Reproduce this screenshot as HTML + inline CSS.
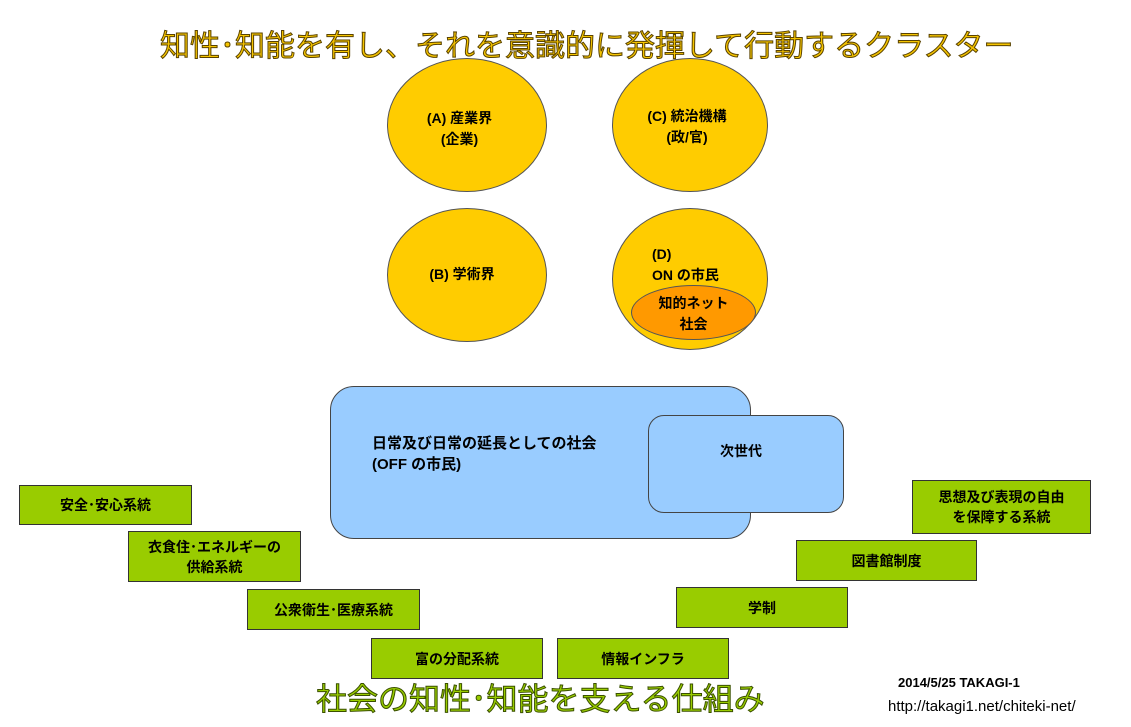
<!DOCTYPE html>
<html><head><meta charset="utf-8"><style>
body{margin:0;width:1131px;height:727px;background:#fff;position:relative;overflow:hidden;font-family:"Liberation Sans","Noto Sans CJK JP",sans-serif;}
.a{position:absolute;box-sizing:border-box;}
.el{border-radius:50%;background:#ffcc00;border:1px solid #555;}
.g{background:#99cc00;border:1px solid #333;display:flex;align-items:center;justify-content:center;text-align:center;font-size:14px;font-weight:bold;line-height:20px;color:#000;}
.t{font-weight:bold;font-size:14px;line-height:21px;text-align:center;}
</style></head><body>
<div class="a el" style="left:387px;top:58px;width:160px;height:134px;"></div>
<div class="a t" style="left:387px;top:108px;width:145px;">(A) 産業界<br>(企業)</div>
<div class="a el" style="left:612px;top:58px;width:156px;height:134px;"></div>
<div class="a t" style="left:612px;top:106px;width:150px;">(C) 統治機構<br>(政/官)</div>
<div class="a el" style="left:387px;top:208px;width:160px;height:134px;"></div>
<div class="a t" style="left:387px;top:264px;width:150px;">(B) 学術界</div>
<div class="a el" style="left:612px;top:208px;width:156px;height:142px;"></div>
<div class="a t" style="left:652px;top:244px;text-align:left;">(D)<br>ON の市民</div>
<div class="a" style="left:631px;top:285px;width:125px;height:55px;border-radius:50%;background:#ff9900;border:1px solid #555;"></div>
<div class="a t" style="left:631px;top:293px;width:125px;">知的ネット<br>社会</div>

<div class="a" style="left:160px;top:21px;font-size:30px;color:#f5c400;font-weight:normal;-webkit-text-stroke:1px #5a4300;white-space:nowrap;">知性･知能を有し、それを意識的に発揮して行動するクラスター</div>

<div class="a" style="left:330px;top:386px;width:421px;height:153px;background:#99ccff;border:1px solid #444;border-radius:24px;"></div>
<div class="a t" style="left:372px;top:433px;text-align:left;font-size:15px;">日常及び日常の延長としての社会<br>(OFF の市民)</div>
<div class="a" style="left:648px;top:415px;width:196px;height:98px;background:#99ccff;border:1px solid #444;border-radius:16px;"></div>
<div class="a t" style="left:720px;top:441px;">次世代</div>

<div class="a g" style="left:19px;top:485px;width:173px;height:40px;">安全･安心系統</div>
<div class="a g" style="left:128px;top:531px;width:173px;height:51px;">衣食住･エネルギーの<br>供給系統</div>
<div class="a g" style="left:247px;top:589px;width:173px;height:41px;">公衆衛生･医療系統</div>
<div class="a g" style="left:371px;top:638px;width:172px;height:41px;">富の分配系統</div>
<div class="a g" style="left:557px;top:638px;width:172px;height:41px;">情報インフラ</div>
<div class="a g" style="left:676px;top:587px;width:172px;height:41px;">学制</div>
<div class="a g" style="left:796px;top:540px;width:181px;height:41px;">図書館制度</div>
<div class="a g" style="left:912px;top:480px;width:179px;height:54px;">思想及び表現の自由<br>を保障する系統</div>

<div class="a" style="left:316px;top:674px;font-size:31px;color:#99cc00;font-weight:normal;-webkit-text-stroke:1px #3a5000;white-space:nowrap;">社会の知性･知能を支える仕組み</div>
<div class="a" style="left:898px;top:675px;font-size:13px;font-weight:bold;">2014/5/25 TAKAGI-1</div>
<div class="a" style="left:888px;top:698px;font-size:15px;">http://takagi1.net/chiteki-net/</div>
</body></html>
